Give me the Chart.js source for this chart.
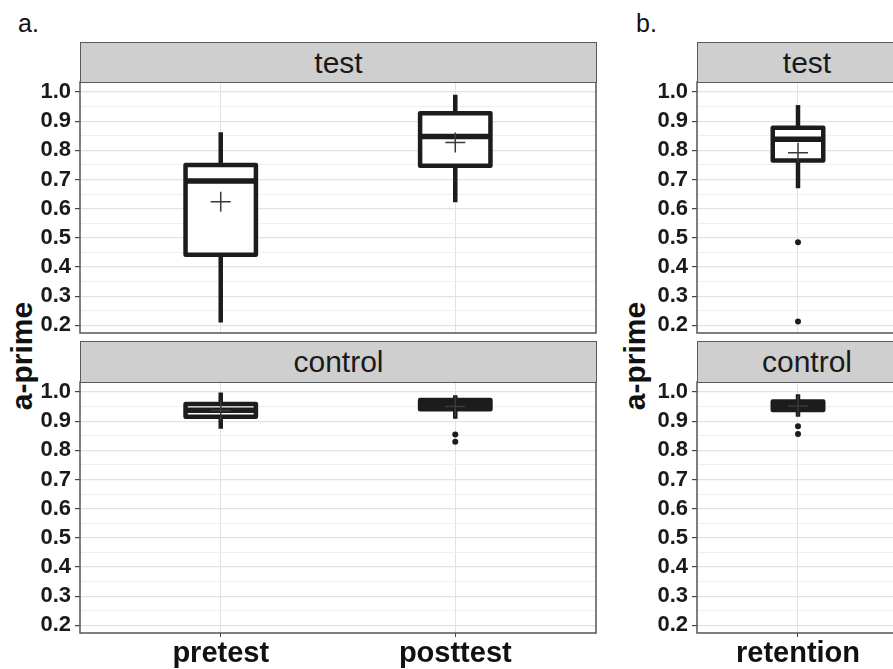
<!DOCTYPE html>
<html><head><meta charset="utf-8">
<script src="https://cdn.jsdelivr.net/npm/chart.js@4/dist/chart.umd.min.js"></script>
<style>
html,body{margin:0;padding:0;background:#fff;}
body{width:893px;height:669px;overflow:hidden;position:relative;font-family:"Liberation Sans",Arial,Helvetica,sans-serif;}
canvas{position:absolute;}
.strip{position:absolute;background:#cfcfcf;border:1.5px solid #5a5a5a;box-sizing:border-box;color:#1a1a1a;font-size:30px;display:flex;align-items:center;justify-content:center;line-height:1;}
.ylab{position:absolute;font-weight:bold;font-size:30px;color:#111;white-space:nowrap;transform:translate(-50%,-50%) rotate(-90deg);line-height:1;}
.plabel{position:absolute;font-size:25px;color:#111;line-height:1;}
</style></head>
<body>
<div class="plabel" style="left:18px;top:11px">a.</div>
<div class="plabel" style="left:636px;top:11px">b.</div>
<div class="ylab" style="left:22px;top:356px">a-prime</div>
<div class="ylab" style="left:635px;top:356px">a-prime</div>

<canvas id="aTop" width="600" height="271" style="left:0;top:72px"></canvas>
<canvas id="aBot" width="600" height="297" style="left:0;top:372px"></canvas>
<canvas id="bTop" width="290" height="271" style="left:617px;top:72px"></canvas>
<canvas id="bBot" width="290" height="297" style="left:617px;top:372px"></canvas>

<div class="strip" style="left:80px;top:42px;width:517px;height:41px">test</div>
<div class="strip" style="left:80px;top:341px;width:517px;height:42px">control</div>
<div class="strip" style="left:697px;top:42px;width:220px;height:41px">test</div>
<div class="strip" style="left:697px;top:341px;width:220px;height:42px">control</div>

<script>
// ---------- data ----------
const catsA = ['pretest', 'posttest'];
const catsB = ['retention'];

const yMajorTicks = [0.2, 0.3, 0.4, 0.5, 0.6, 0.7, 0.8, 0.9, 1.0];
const yMinorTicks = [0.25, 0.35, 0.45, 0.55, 0.65, 0.75, 0.85, 0.95];

// panel a, test group
const testA_low     = [0.21, 0.622];
const testA_q1      = [0.442, 0.747];
const testA_median  = [0.695, 0.847];
const testA_q3      = [0.75, 0.927];
const testA_high    = [0.862, 0.99];
const testA_mean    = [0.624, 0.827];
const testA_outliers = [[], []];

// panel a, control group
const ctrlA_low     = [0.874, 0.908];
const ctrlA_q1      = [0.915, 0.941];
const ctrlA_median  = [0.937, 0.957];
const ctrlA_q3      = [0.959, 0.972];
const ctrlA_high    = [0.998, 0.989];
const ctrlA_mean    = [0.936, 0.95];
const ctrlA_outliers = [[], [0.854, 0.829]];

// panel b, test group
const testB_low     = [0.67];
const testB_q1      = [0.765];
const testB_median  = [0.838];
const testB_q3      = [0.877];
const testB_high    = [0.955];
const testB_mean    = [0.792];
const testB_outliers = [[0.485, 0.213]];

// panel b, control group
const ctrlB_low     = [0.915];
const ctrlB_q1      = [0.938];
const ctrlB_median  = [0.953];
const ctrlB_q3      = [0.967];
const ctrlB_high    = [0.992];
const ctrlB_mean    = [0.952];
const ctrlB_outliers = [[0.882, 0.856]];

// ---------- styling ----------
const FONT = '"Liberation Sans", Arial, Helvetica, sans-serif';
const INK = '#1c1c1c';
const HW = 0.15;            // half box width in category units
const Y_MIN = 0.174, Y_MAX = 1.034;
const allYTicks = yMajorTicks.concat(yMinorTicks).sort((a, b) => a - b);
const isMajor = v => yMajorTicks.some(t => Math.abs(t - v) < 1e-6);

const panelBorder = {
  id: 'panelBorder',
  afterDatasetsDraw(chart) {
    const { ctx, chartArea: a } = chart;
    ctx.save();
    ctx.strokeStyle = '#555';
    ctx.lineWidth = 1.5;
    ctx.strokeRect(a.left, a.top, a.right - a.left, a.bottom - a.top);
    ctx.restore();
  }
};

function buildDatasets(low, q1, med, q3, high, mean, outliers) {
  const ds = [];
  const whisker = [];
  low.forEach((v, i) => {
    const c = i + 1;
    whisker.push({ x: c, y: low[i] }, { x: c, y: high[i] }, { x: c, y: null });
  });
  ds.push({ type: 'line', data: whisker, borderColor: INK, borderWidth: 4.5, borderCapStyle: 'butt',
            pointRadius: 0, spanGaps: false, fill: false, order: 10 });
  q1.forEach((v, i) => {
    const c = i + 1;
    ds.push({ type: 'line',
      data: [{ x: c - HW, y: q1[i] }, { x: c + HW, y: q1[i] }, { x: c + HW, y: q3[i] },
             { x: c - HW, y: q3[i] }, { x: c - HW, y: q1[i] }],
      borderColor: INK, borderWidth: 4.5, borderJoinStyle: 'round', borderCapStyle: 'round',
      backgroundColor: '#ffffff', fill: 'shape', pointRadius: 0, tension: 0, order: 5 });
  });
  const medLine = [];
  med.forEach((v, i) => {
    const c = i + 1;
    medLine.push({ x: c - HW, y: v }, { x: c + HW, y: v }, { x: c, y: null });
  });
  ds.push({ type: 'line', data: medLine, borderColor: INK, borderWidth: 5.5, borderCapStyle: 'butt',
            pointRadius: 0, spanGaps: false, fill: false, order: 3 });
  ds.push({ type: 'scatter', data: mean.map((v, i) => ({ x: i + 1, y: v })), pointStyle: 'cross',
            pointRadius: 10, borderColor: '#3a3a3a', borderWidth: 1.5, order: 2 });
  const out = [];
  outliers.forEach((arr, i) => arr.forEach(v => out.push({ x: i + 1, y: v })));
  ds.push({ type: 'scatter', data: out, pointStyle: 'circle', pointRadius: 3,
            backgroundColor: INK, borderColor: INK, borderWidth: 0, order: 1 });
  return ds;
}

function makeChart(id, cats, datasets, showX, padRight) {
  return new Chart(document.getElementById(id), {
    type: 'scatter',
    data: { datasets },
    plugins: [panelBorder],
    options: {
      responsive: false, animation: false, devicePixelRatio: 1,
      events: [],
      layout: { autoPadding: false, padding: { left: 0, right: padRight, top: 10, bottom: showX ? 0 : 10 } },
      plugins: { legend: { display: false }, tooltip: { enabled: false } },
      scales: {
        x: {
          type: 'linear', min: 0.4, max: cats.length + 0.6, offset: false,
          afterBuildTicks: s => { s.ticks = cats.map((c, i) => ({ value: i + 1 })); },
          afterFit: s => { s.height = showX ? 36 : 0; s.paddingLeft = 0; s.paddingRight = 0; },
          ticks: {
            display: showX, autoSkip: false, maxRotation: 0, padding: 0,
            color: '#111', font: { family: FONT, size: 29, weight: 'bold' },
            callback: v => cats[Math.round(v) - 1]
          },
          grid: { color: '#e2e2e2', lineWidth: 1, offset: false, drawTicks: showX, tickLength: 4, tickColor: '#444' },
          border: { display: false }
        },
        y: {
          min: Y_MIN, max: Y_MAX,
          afterBuildTicks: s => { s.ticks = allYTicks.map(v => ({ value: v })); },
          afterFit: s => { s.width = 80; s.paddingTop = 0; s.paddingBottom = 0; },
          ticks: {
            autoSkip: false, padding: 4, color: '#1a1a1a',
            font: { family: FONT, size: 22, weight: 'bold' },
            callback: v => isMajor(v) ? v.toFixed(1) : ''
          },
          grid: {
            color: c => isMajor(c.tick.value) ? '#e2e2e2' : '#efefef',
            lineWidth: c => isMajor(c.tick.value) ? 1.2 : 1,
            drawTicks: true, tickLength: 5,
            tickColor: c => isMajor(c.tick.value) ? '#444' : 'rgba(0,0,0,0)'
          },
          border: { display: false }
        }
      }
    }
  });
}

makeChart('aTop', catsA, buildDatasets(testA_low, testA_q1, testA_median, testA_q3, testA_high, testA_mean, testA_outliers), false, 4);
makeChart('aBot', catsA, buildDatasets(ctrlA_low, ctrlA_q1, ctrlA_median, ctrlA_q3, ctrlA_high, ctrlA_mean, ctrlA_outliers), true, 4);
makeChart('bTop', catsB, buildDatasets(testB_low, testB_q1, testB_median, testB_q3, testB_high, testB_mean, testB_outliers), false, 8);
makeChart('bBot', catsB, buildDatasets(ctrlB_low, ctrlB_q1, ctrlB_median, ctrlB_q3, ctrlB_high, ctrlB_mean, ctrlB_outliers), true, 8);
</script>
</body></html>
